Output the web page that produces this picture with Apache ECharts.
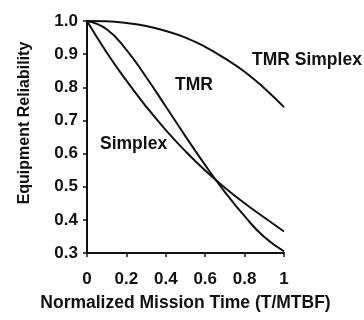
<!DOCTYPE html>
<html>
<head>
<meta charset="utf-8">
<script src="https://cdn.jsdelivr.net/npm/echarts@6/dist/echarts.min.js"></script>
<style>
  html, body { margin: 0; padding: 0; background: #fff; }
  #main { width: 364px; height: 320px; }
</style>
</head>
<body>
<div id="main"></div>
<script>
// normalized mission time (T/MTBF)
var times = [0, 0.1, 0.2, 0.3, 0.4, 0.5, 0.6, 0.7, 0.8, 0.9, 1.0];
// values
var simplex = [1.0, 0.905, 0.82, 0.742, 0.671, 0.607, 0.549, 0.497, 0.45, 0.407, 0.365];
var tmr = [1.0, 0.975, 0.913, 0.831, 0.742, 0.652, 0.565, 0.484, 0.411, 0.348, 0.305];
var tmrSimplex = [1.0, 0.999, 0.994, 0.985, 0.97, 0.95, 0.922, 0.887, 0.847, 0.797, 0.74];
var xTicks = [0, 0.2, 0.4, 0.6, 0.8, 1];

function pairs(vals) {
    return times.map(function (t, i) { return [t, vals[i]]; });
}

var chart1 = echarts.init(document.getElementById('main'));
var font = 'Liberation Sans, Arial, Helvetica, sans-serif';
var lineStyle = { color: '#111', width: 2 };

var option = {
    backgroundColor: '#fff',
    animation: false,
    grid: { left: 87, right: 80, top: 21, bottom: 67 },
    xAxis: {
        type: 'value',
        min: 0, max: 1, interval: 0.2,
        name: 'Normalized Mission Time (T/MTBF)',
        nameLocation: 'middle',
        nameGap: 41,
        nameTextStyle: { color: '#111', fontSize: 17.5, fontWeight: 'bold', fontFamily: font },
        axisLine: { lineStyle: { color: '#111', width: 2 } },
        axisTick: { length: 4, lineStyle: { color: '#111', width: 1.5 } },
        axisLabel: {
            margin: 18, color: '#111', fontSize: 17, fontWeight: 'bold', fontFamily: font,
            formatter: function (v) {
                return xTicks.indexOf(Math.round(v * 10) / 10) >= 0 ? String(Math.round(v * 10) / 10) : '';
            }
        },
        splitLine: { show: false }
    },
    yAxis: {
        type: 'value',
        min: 0.3, max: 1.0, interval: 0.1,
        axisLine: { show: true, lineStyle: { color: '#111', width: 2 } },
        axisTick: { show: true, length: 4, lineStyle: { color: '#111', width: 1.5 } },
        axisLabel: {
            margin: 9, color: '#111', fontSize: 17, fontWeight: 'bold', fontFamily: font,
            formatter: function (v) { return v.toFixed(1); }
        },
        splitLine: { show: false }
    },
    graphic: [
        {
            type: 'text', x: 25, y: 123, rotation: Math.PI / 2,
            style: { text: 'Equipment Reliability', fill: '#111', font: 'bold 16px ' + font, align: 'center', verticalAlign: 'middle' }
        },
        { type: 'text', left: 252, top: 51, style: { text: 'TMR Simplex', fill: '#111', font: 'bold 17.5px ' + font } },
        { type: 'text', left: 175, top: 76, style: { text: 'TMR', fill: '#111', font: 'bold 17.5px ' + font } },
        { type: 'text', left: 100, top: 135, style: { text: 'Simplex', fill: '#111', font: 'bold 17.5px ' + font } }
    ],
    series: [
        { name: 'Simplex', type: 'line', data: pairs(simplex), smooth: true, showSymbol: false, lineStyle: lineStyle },
        { name: 'TMR', type: 'line', data: pairs(tmr), smooth: true, showSymbol: false, lineStyle: lineStyle },
        { name: 'TMR Simplex', type: 'line', data: pairs(tmrSimplex), smooth: true, showSymbol: false, lineStyle: lineStyle }
    ]
};

chart1.setOption(option);
</script>
</body>
</html>
